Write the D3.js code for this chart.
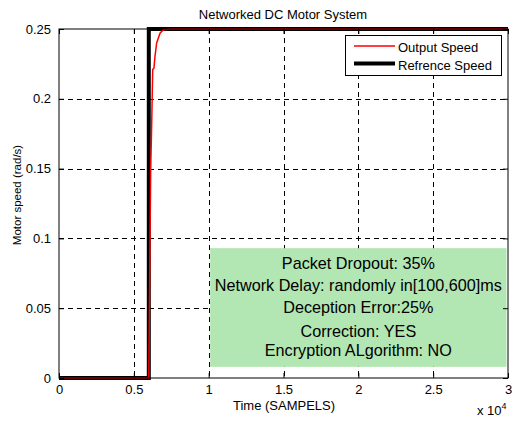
<!DOCTYPE html>
<html>
<head>
<meta charset="utf-8">
<script src="https://cdn.jsdelivr.net/npm/d3@7"></script>
<style>
  body { margin: 0; background: #fff; }
  svg { font-family: "Liberation Sans", Arial, sans-serif; }
</style>
</head>
<body>
<svg id="chart" width="512" height="422"></svg>
<script>
// data
const xTicks = [0, 5000, 10000, 15000, 20000, 25000, 30000];
const xTickLabels = ["0", "0.5", "1", "1.5", "2", "2.5", "3"];
const yTicks = [0, 0.05, 0.1, 0.15, 0.2, 0.25];
const yTickLabels = ["0", "0.05", "0.1", "0.15", "0.2", "0.25"];

const refT = [0, 6000, 6000, 30000];
const refV = [0, 0, 0.25, 0.25];

const outT = [0, 6000, 6100, 6125, 6190, 6260, 6345, 6410, 6525, 6750, 6970, 7500, 30000];
const outV = [0, 0, 0.12, 0.149, 0.18, 0.221, 0.222, 0.230, 0.240, 0.247, 0.2495, 0.25, 0.25];

const notes = [
  "Packet Dropout: 35%",
  "Network Delay: randomly in[100,600]ms",
  "Deception Error:25%",
  "Correction: YES",
  "Encryption ALgorithm: NO"
];

const svg = d3.select("#chart");
const pLeft = 59, pRight = 508, pTop = 29, pBottom = 378;

const x = d3.scaleLinear().domain([0, 30000]).range([pLeft, pRight]);
const y = d3.scaleLinear().domain([0, 0.25]).range([pBottom, pTop]);

// grid
const grid = svg.append("g").attr("stroke", "#000").attr("stroke-dasharray", "5,4").attr("stroke-width", 1);
xTicks.slice(1, -1).forEach(t => {
  grid.append("line").attr("x1", Math.round(x(t)) + 0.5).attr("x2", Math.round(x(t)) + 0.5)
    .attr("y1", pTop).attr("y2", pBottom);
});
yTicks.slice(1, -1).forEach(t => {
  grid.append("line").attr("y1", Math.round(y(t)) + 0.5).attr("y2", Math.round(y(t)) + 0.5)
    .attr("x1", pLeft).attr("x2", pRight);
});

// annotation box
svg.append("rect")
  .attr("x", x(10100)).attr("y", y(0.093))
  .attr("width", x(29900) - x(10100)).attr("height", y(0.008) - y(0.093))
  .attr("fill", "#b2e6b2");

const noteY = [0.0815, 0.0655, 0.0495, 0.0325, 0.0185];
svg.append("g").selectAll("text").data(notes).join("text")
  .attr("x", x(20000)).attr("y", (d, i) => y(noteY[i]))
  .attr("text-anchor", "middle").attr("dominant-baseline", "middle")
  .attr("font-size", 16.2).attr("fill", "#000")
  .text(d => d);

// lines
const line = d3.line().x(d => x(d[0])).y(d => y(d[1]));
svg.append("path").datum(d3.zip(refT, refV)).attr("d", line)
  .attr("fill", "none").attr("stroke", "#000").attr("stroke-width", 4);
svg.append("path").datum(d3.zip(outT, outV)).attr("d", line)
  .attr("fill", "none").attr("stroke", "#ff0000").attr("stroke-width", 1.5);

// axes with inward ticks
const gx = svg.append("g").attr("transform", `translate(0,${pBottom})`)
  .call(d3.axisBottom(x).tickValues(xTicks).tickFormat((d, i) => xTickLabels[i]).tickSizeInner(-5).tickSizeOuter(0).tickPadding(7));
const gxt = svg.append("g").attr("transform", `translate(0,${pTop})`)
  .call(d3.axisTop(x).tickValues(xTicks).tickFormat("").tickSizeInner(-5).tickSizeOuter(0));
const gy = svg.append("g").attr("transform", `translate(${pLeft},0)`)
  .call(d3.axisLeft(y).tickValues(yTicks).tickFormat((d, i) => yTickLabels[i]).tickSizeInner(-5).tickSizeOuter(0).tickPadding(8));
const gyr = svg.append("g").attr("transform", `translate(${pRight},0)`)
  .call(d3.axisRight(y).tickValues(yTicks).tickFormat("").tickSizeInner(-5).tickSizeOuter(0));
[gx, gxt, gy, gyr].forEach(g => {
  g.select(".domain").remove();
  g.selectAll("line").attr("stroke", "#000");
  g.selectAll("text").attr("font-size", 13).attr("fill", "#000").style("font-family", "Liberation Sans, Arial, sans-serif");
});

// frame
svg.append("rect").attr("x", pLeft).attr("y", pTop).attr("width", pRight - pLeft).attr("height", pBottom - pTop)
  .attr("fill", "none").attr("stroke", "#000").attr("stroke-width", 1);

// legend
const lg = svg.append("g");
lg.append("rect").attr("x", 345.5).attr("y", 35.5).attr("width", 156).attr("height", 40)
  .attr("fill", "#fff").attr("stroke", "#000");
lg.append("line").attr("x1", 354).attr("x2", 395).attr("y1", 46).attr("y2", 46)
  .attr("stroke", "#ff0000").attr("stroke-width", 1.5);
lg.append("line").attr("x1", 354).attr("x2", 395).attr("y1", 63.5).attr("y2", 63.5)
  .attr("stroke", "#000").attr("stroke-width", 4);
lg.append("text").attr("x", 398).attr("y", 51.5).attr("font-size", 13).text("Output Speed");
lg.append("text").attr("x", 398).attr("y", 69.5).attr("font-size", 13).text("Refrence Speed");

// titles
svg.append("text").attr("x", 283).attr("y", 19).attr("text-anchor", "middle").attr("font-size", 13)
  .text("Networked DC Motor System");
svg.append("text").attr("x", 284).attr("y", 410).attr("text-anchor", "middle").attr("font-size", 13)
  .text("Time (SAMPELS)");
svg.append("text").attr("transform", "translate(21,195) rotate(-90)").attr("text-anchor", "middle").attr("font-size", 11.5)
  .text("Motor speed (rad/s)");
const ex = svg.append("text").attr("x", 477).attr("y", 415).attr("font-size", 13);
ex.append("tspan").text("x 10");
ex.append("tspan").attr("dy", -6).attr("font-size", 9).text("4");
</script>
</body>
</html>
